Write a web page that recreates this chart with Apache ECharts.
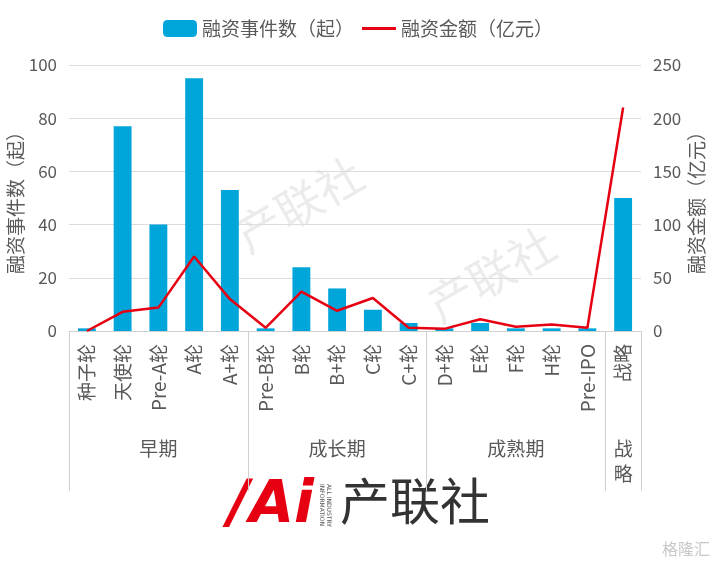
<!DOCTYPE html>
<html>
<head>
<meta charset="utf-8">
<script src="https://cdn.jsdelivr.net/npm/echarts@6/dist/echarts.min.js"></script>
<style>
  html, body { margin: 0; padding: 0; background: #fff; }
  #chart { width: 716px; height: 563px; }
</style>
</head>
<body>
<div id="chart"></div>
<script>
// 轮次
const rounds = ['种子轮', '天使轮', 'Pre-A轮', 'A轮', 'A+轮', 'Pre-B轮', 'B轮', 'B+轮', 'C轮', 'C+轮',
  'D+轮', 'E轮', 'F轮', 'H轮', 'Pre-IPO', '战略']
// 融资事件数（起）
const dealCounts = [1, 77, 40, 95, 53, 1, 24, 16, 8, 3, 1, 3, 1, 1, 1, 50]
// 融资金额（亿元）
const dealAmounts = [0, 18, 22, 70, 30, 3, 37, 19, 31, 3, 2, 11, 4, 6, 3, 210]
// 阶段分组: 名称 / 中心位置 / 分隔线位置
const stageNames = ['早期', '成长期', '成熟期', '战\n略']
const stageCenters = [2.5, 7.5, 12.5, 15.5]
const stageBounds = [0, 5, 10, 15, 16]

const font = '"Noto Sans CJK SC", sans-serif'
const grey = '#595959'

const myChart = echarts.init(document.getElementById('chart'))
myChart.setOption({
  textStyle: { fontFamily: font },
  legend: {
    top: 14,
    left: 'center',
    itemWidth: 34,
    itemHeight: 17,
    itemGap: 8,
    textStyle: { fontSize: 19, color: grey, fontFamily: font },
    data: [
      { name: '融资事件数（起）' },
      { name: '融资金额（亿元）', icon: 'path://M0,0 L34,0 L34,3 L0,3 Z', itemStyle: { color: '#e60012' } }
    ]
  },
  grid: { left: 69, right: 75, top: 65, bottom: 232, outerBoundsMode: 'none', containLabel: false },
  xAxis: [
    {
      type: 'category',
      data: rounds,
      axisLine: { lineStyle: { color: '#d0d0d0' } },
      axisTick: { show: false },
      axisLabel: {
        rotate: 90,
        interval: 0,
        margin: 13,
        fontSize: 19,
        color: grey,
        fontFamily: font
      }
    },
    {
      // 阶段分组轴
      type: 'value',
      position: 'bottom',
      min: 0,
      max: 16,
      axisLine: { show: false },
      splitLine: { show: false },
      axisTick: {
        show: true,
        length: 160,
        customValues: stageBounds,
        lineStyle: { color: '#d0d0d0' }
      },
      axisLabel: {
        customValues: stageCenters,
        formatter: function (v) {
          return stageNames[stageCenters.indexOf(v)]
        },
        margin: 105,
        fontSize: 19,
        lineHeight: 25,
        color: grey,
        fontFamily: font
      }
    }
  ],
  yAxis: [
    {
      type: 'value',
      min: 0,
      max: 100,
      interval: 20,
      name: '融资事件数（起）',
      nameLocation: 'middle',
      nameRotate: 90,
      nameGap: 44,
      nameMoveOverlap: false,
      nameTextStyle: { fontSize: 19, color: grey, fontFamily: font },
      axisLine: { show: false },
      axisTick: { show: false },
      axisLabel: { fontSize: 17, color: grey, margin: 12, fontFamily: font },
      splitLine: { lineStyle: { color: '#dcdcdc' } }
    },
    {
      type: 'value',
      min: 0,
      max: 250,
      interval: 50,
      name: '融资金额（亿元）',
      nameLocation: 'middle',
      nameRotate: 90,
      nameGap: 46,
      nameMoveOverlap: false,
      nameTextStyle: { fontSize: 19, color: grey, fontFamily: font },
      axisLine: { show: false },
      axisTick: { show: false },
      axisLabel: { fontSize: 17, color: grey, margin: 12, fontFamily: font },
      splitLine: { show: false }
    }
  ],
  series: [
    {
      name: '融资事件数（起）',
      type: 'bar',
      data: dealCounts,
      barWidth: '50%',
      itemStyle: { color: '#00a5d9' }
    },
    {
      name: '融资金额（亿元）',
      type: 'line',
      yAxisIndex: 1,
      data: dealAmounts,
      symbol: 'none',
      lineStyle: { color: '#e60012', width: 2.5 },
      itemStyle: { color: '#e60012' }
    }
  ],
  graphic: [
    // 水印
    {
      type: 'text',
      left: 228,
      top: 150,
      rotation: Math.PI / 6,
      silent: true,
      style: { text: '产联社', fontSize: 46, fill: 'rgba(0,0,0,0.08)', fontFamily: font }
    },
    {
      type: 'text',
      left: 420,
      top: 220,
      rotation: Math.PI / 6,
      silent: true,
      style: { text: '产联社', fontSize: 46, fill: 'rgba(0,0,0,0.08)', fontFamily: font }
    },
    // 底部 logo
    {
      type: 'text',
      left: 228,
      top: 478,
      silent: true,
      style: { text: '/Ai', fontSize: 58, fontWeight: 'bold', fontStyle: 'italic', fill: '#e60012', fontFamily: 'DejaVu Sans' }
    },
    {
      type: 'text',
      left: 318,
      top: 484,
      rotation: -Math.PI / 2,
      silent: true,
      style: { text: 'ALL INDUSTRY\nINFORMATION', fontSize: 6, lineHeight: 7, fill: '#555', fontFamily: 'DejaVu Sans' }
    },
    {
      type: 'text',
      left: 340,
      top: 476,
      silent: true,
      style: { text: '产联社', fontSize: 50, fill: '#333', fontFamily: font }
    },
    {
      type: 'text',
      right: 6,
      bottom: 6,
      silent: true,
      style: { text: '格隆汇', fontSize: 16, fill: '#c8c8c8', fontFamily: font }
    }
  ]
})
</script>
</body>
</html>
